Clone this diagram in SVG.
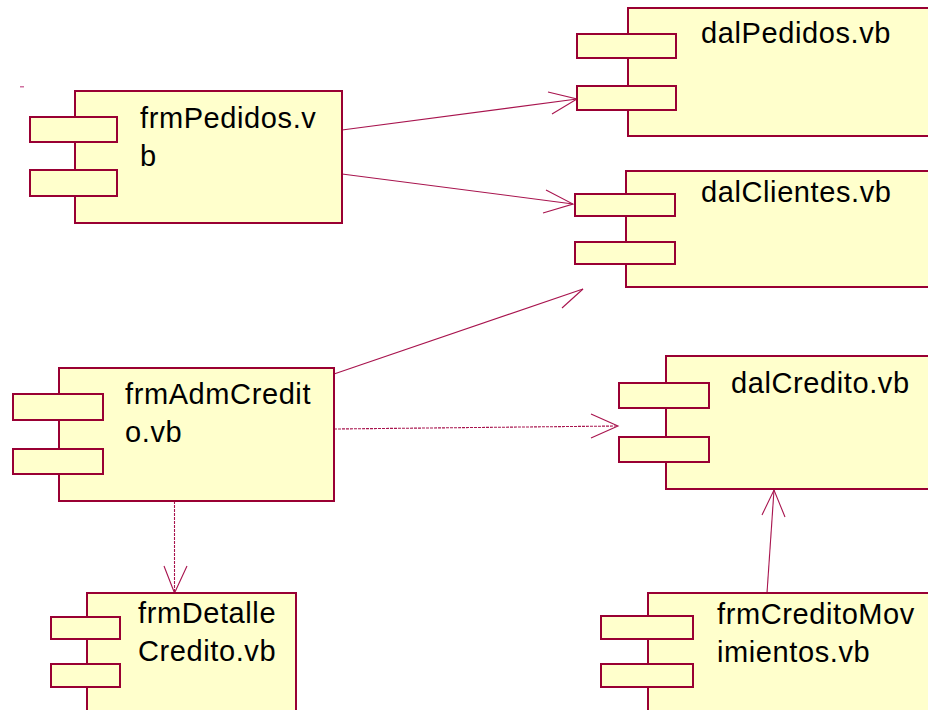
<svg xmlns="http://www.w3.org/2000/svg" width="928" height="710" viewBox="0 0 928 710">
  <style>
    .body { fill: #ffffcc; stroke: #990033; stroke-width: 2; }
    .port { fill: #ffffcc; stroke: #990033; stroke-width: 2; }
    .label { font-family: "Liberation Sans", Arial, sans-serif; font-size: 29px; letter-spacing: 0.6px; fill: #000000; }
    .dep { fill: none; stroke: #a8144e; stroke-width: 1.1; }
    .dep.dotted { stroke-dasharray: 3 1; }
  </style>
  <rect x="0" y="0" width="928" height="710" fill="#ffffff"/>

  <!-- stray tick mark -->
  <rect x="20" y="86" width="4" height="1.5" fill="#d070a0"/>

  <!-- dependency connectors -->
  <g id="connectors">
    <path class="dep" d="M342 130 L577 99"/>
    <path class="dep" d="M548 92 L577 99 L552 114"/>

    <path class="dep" d="M342 174 L573 204"/>
    <path class="dep" d="M546 190 L573 204 L543 213"/>

    <path class="dep" d="M334 374 L583 289"/>
    <path class="dep" d="M583 289 L562 308"/>

    <path class="dep dotted" d="M334 429 L618 426"/>
    <path class="dep" d="M591 414 L618 426 L591 438"/>

    <path class="dep dotted" d="M174.5 501 L174.5 593"/>
    <path class="dep" d="M164 566 L174.5 593 L187 566"/>

    <path class="dep" d="M767 593 L774 490"/>
    <path class="dep" d="M762 515 L774 490 L785 517"/>
  </g>

  <g id="frmPedidos">
    <rect class="body" x="75" y="91" width="267" height="132"/>
    <rect class="port" x="30" y="117" width="87" height="25"/>
    <rect class="port" x="30" y="170" width="87" height="26"/>
    <text class="label" x="140" y="128">frmPedidos.v</text>
    <text class="label" x="140" y="166">b</text>
  </g>

  <g id="dalPedidos">
    <rect class="body" x="628" y="8" width="320" height="128"/>
    <rect class="port" x="577" y="34" width="99" height="24"/>
    <rect class="port" x="577" y="86" width="99" height="24"/>
    <text class="label" x="701" y="43">dalPedidos.vb</text>
  </g>

  <g id="dalClientes">
    <rect class="body" x="626" y="171" width="322" height="116"/>
    <rect class="port" x="575" y="194" width="100" height="22"/>
    <rect class="port" x="575" y="242" width="100" height="22"/>
    <text class="label" x="701" y="202">dalClientes.vb</text>
  </g>

  <g id="frmAdmCredito">
    <rect class="body" x="59" y="368" width="275" height="133"/>
    <rect class="port" x="13" y="394" width="90" height="26"/>
    <rect class="port" x="13" y="449" width="90" height="25"/>
    <text class="label" x="125" y="404">frmAdmCredit</text>
    <text class="label" x="125" y="442">o.vb</text>
  </g>

  <g id="dalCredito">
    <rect class="body" x="666" y="356" width="282" height="133"/>
    <rect class="port" x="619" y="383" width="90" height="25"/>
    <rect class="port" x="619" y="437" width="90" height="25"/>
    <text class="label" x="731" y="393">dalCredito.vb</text>
  </g>

  <g id="frmDetalleCredito">
    <rect class="body" x="87" y="593" width="209" height="130"/>
    <rect class="port" x="51" y="617" width="69" height="22"/>
    <rect class="port" x="51" y="664" width="69" height="23"/>
    <text class="label" x="138" y="623">frmDetalle</text>
    <text class="label" x="138" y="661">Credito.vb</text>
  </g>

  <g id="frmCreditoMovimientos">
    <rect class="body" x="648" y="593" width="300" height="130"/>
    <rect class="port" x="601" y="616" width="92" height="23"/>
    <rect class="port" x="601" y="664" width="92" height="23"/>
    <text class="label" x="717" y="624">frmCreditoMov</text>
    <text class="label" x="717" y="662">imientos.vb</text>
  </g>
</svg>
